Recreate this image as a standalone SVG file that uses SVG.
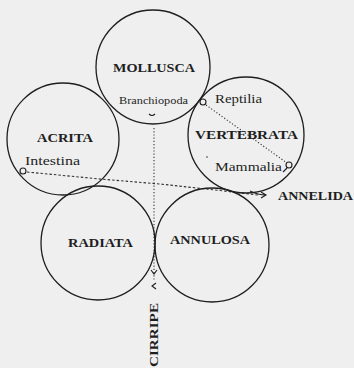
<svg xmlns="http://www.w3.org/2000/svg" width="354" height="368" viewBox="0 0 354 368">
<style>
.c{fill:none;stroke:#1e1e1e;stroke-width:1.3}
.t{font-family:"Liberation Serif","DejaVu Serif",serif;font-weight:bold;fill:#1e1e1e}
.s{font-family:"Liberation Serif","DejaVu Serif",serif;fill:#1e1e1e}
.d{fill:none;stroke:#333;stroke-width:1.1;stroke-dasharray:2.5 2}
.dot{fill:none;stroke:#333;stroke-width:1.1;stroke-dasharray:1.2 2}
.o{fill:none;stroke:#1e1e1e;stroke-width:1.1}
</style>
<rect width="354" height="368" fill="#efefef"/>
<g id="connectors">
<path class="d" d="M27 172 L100 179 L160 184 L215 190 L258 195"/>
<path class="o" d="M250 191 Q258 195 266 195 M261 192 L266 195 L261 198"/>
<path class="dot" d="M154 128 L154 280"/>
<path class="o" d="M151 270 L154 274 L157 270 M156 283 L152 286 L156 289"/>
<path class="dot" d="M206 105 L287 163"/>
</g>
<g id="mollusca">
<circle class="c" cx="153" cy="67" r="57"/>
<text class="t" x="113" y="72" font-size="13" textLength="82" lengthAdjust="spacingAndGlyphs">MOLLUSCA</text>
<text class="s" x="119" y="104" font-size="10.5" textLength="69" lengthAdjust="spacingAndGlyphs">Branchiopoda</text>
<path class="o" d="M149 114 Q152 117 155 114"/>
</g>
<g id="acrita">
<circle class="c" cx="63" cy="139" r="56"/>
<text class="t" x="37" y="142" font-size="12.5" textLength="56" lengthAdjust="spacingAndGlyphs">ACRITA</text>
<text class="s" x="25" y="165" font-size="11.5" textLength="55" lengthAdjust="spacingAndGlyphs">Intestina</text>
<circle class="o" cx="23" cy="171" r="3"/>
</g>
<g id="vertebrata">
<circle class="c" cx="246" cy="135" r="58"/>
<text class="t" x="195" y="139" font-size="12.5" textLength="103" lengthAdjust="spacingAndGlyphs">VERTEBRATA</text>
<text class="s" x="215" y="103" font-size="11.5" textLength="47" lengthAdjust="spacingAndGlyphs">Reptilia</text>
<circle class="o" cx="203" cy="102" r="3"/>
<text class="s" x="215" y="171" font-size="11.5" textLength="67" lengthAdjust="spacingAndGlyphs">Mammalia</text>
<circle class="o" cx="289" cy="165" r="3"/>
<path class="o" d="M287 168 L283 172"/>
<circle cx="207" cy="157" r="0.8" fill="#333"/>
</g>
<g id="radiata">
<circle class="c" cx="98" cy="243" r="57"/>
<text class="t" x="68" y="247" font-size="12.5" textLength="65" lengthAdjust="spacingAndGlyphs">RADIATA</text>
</g>
<g id="annulosa">
<circle class="c" cx="212" cy="245" r="57"/>
<text class="t" x="170" y="244" font-size="12.5" textLength="80" lengthAdjust="spacingAndGlyphs">ANNULOSA</text>
</g>
<g id="annelida">
<text class="t" x="278" y="200" font-size="12.5" textLength="75" lengthAdjust="spacingAndGlyphs">ANNELIDA</text>
</g>
<g id="cirripe">
<text class="t" transform="translate(158 367) rotate(-90)" x="0" y="0" font-size="13" textLength="64" lengthAdjust="spacingAndGlyphs">CIRRIPE</text>
</g>
</svg>
